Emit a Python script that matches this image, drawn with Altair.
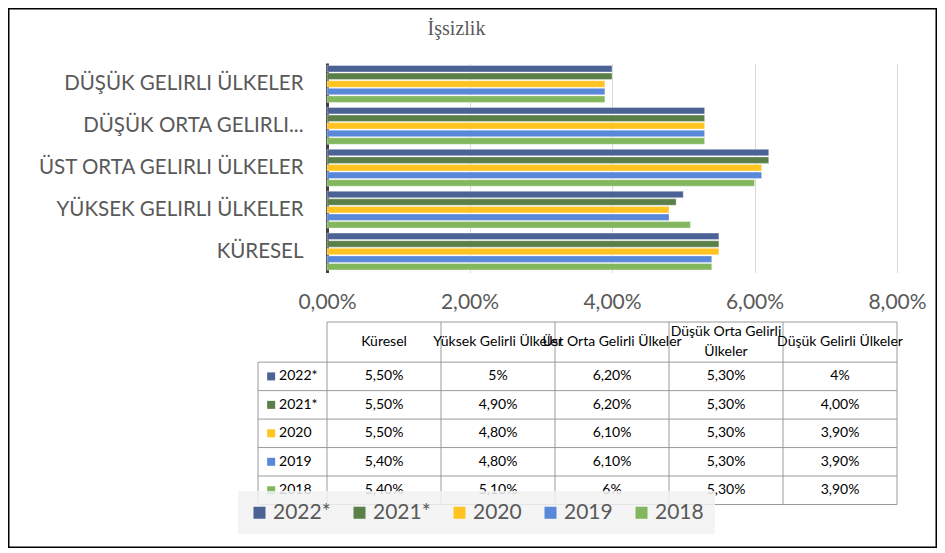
import altair as alt
import pandas as pd

# ---------------- data ----------------
chart_title = "İşsizlik"
categories = ["DÜŞÜK GELIRLI ÜLKELER", "DÜŞÜK ORTA GELIRLI...", "ÜST ORTA GELIRLI ÜLKELER",
              "YÜKSEK GELIRLI ÜLKELER", "KÜRESEL"]
table_columns = ["Küresel", "Yüksek Gelirli Ülkeler", "Üst Orta Gelirli Ülkeler",
                 "Düşük Orta Gelirli\nÜlkeler", "Düşük Gelirli Ülkeler"]
years = ["2022*", "2021*", "2020", "2019", "2018"]
year_colors = ["#4A6394", "#5B7F48", "#FFC322", "#5A88D8", "#82B75E"]
tick_values = [0, 2, 4, 6, 8]

# values (%) in table-column order: Küresel, Yüksek, Üst Orta, Düşük Orta, Düşük
v2022 = [5.5, 5.0, 6.2, 5.3, 4.0]
v2021 = [5.5, 4.9, 6.2, 5.3, 4.0]
v2020 = [5.5, 4.8, 6.1, 5.3, 3.9]
v2019 = [5.4, 4.8, 6.1, 5.3, 3.9]
v2018 = [5.4, 5.1, 6.0, 5.3, 3.9]

t2022 = ["5,50%", "5%", "6,20%", "5,30%", "4%"]
t2021 = ["5,50%", "4,90%", "6,20%", "5,30%", "4,00%"]
t2020 = ["5,50%", "4,80%", "6,10%", "5,30%", "3,90%"]
t2019 = ["5,40%", "4,80%", "6,10%", "5,30%", "3,90%"]
t2018 = ["5,40%", "5,10%", "6%", "5,30%", "3,90%"]

series = [v2022, v2021, v2020, v2019, v2018]
labels = [t2022, t2021, t2020, t2019, t2018]

# ---------------- layout (pixels inside the framed view) ----------------
W, H = 929, 540
PLOT_X = [319, 889]
PLOT_Y = [55, 264.5]
TABLE_Y = [314, 496.5]
HEADER_H = 1.41      # header row height in row units
ROWHDR_W = 0.605     # row-header column width in column units
SW_X = -0.49
TXT_X = -0.42
LINE_H = 20          # header line height (px)
ROW_PX = (TABLE_Y[1] - TABLE_Y[0]) / (HEADER_H + len(years))
FONT = "Lato"

ncat = len(categories)
ncol = len(table_columns)
nrow = len(years)

# ---------------- bar chart ----------------
bar_rows = []
for y, vals in zip(years, series):
    for j in range(ncol):
        bar_rows.append({"cat": categories[ncat - 1 - j], "year": y, "value": vals[j]})
bars_df = pd.DataFrame(bar_rows)

color_scale = alt.Scale(domain=years, range=year_colors)
legend = alt.Legend(title=None, orient="none", legendX=230, legendY=483,
                    direction="horizontal", columns=5, symbolType="square",
                    symbolSize=144, symbolStrokeWidth=0, labelFont=FONT,
                    labelFontSize=21, labelColor="#595959", labelOffset=3,
                    columnPadding=18, padding=11,
                    fillColor="rgba(242,242,242,0.85)")

bars = alt.Chart(bars_df).mark_bar(stroke="white", strokeOpacity=0.35, strokeWidth=1).encode(
    x=alt.X("value:Q",
            scale=alt.Scale(domain=[0, 8], range=PLOT_X, nice=False, zero=True),
            axis=alt.Axis(orient="top", offset=-306, values=tick_values,
                          labelExpr="replace(format(datum.value, '.2f'), '.', ',') + '%'",
                          grid=True, gridColor="#D9D9D9", gridWidth=1, domain=False,
                          ticks=False, tickSize=0, labelPadding=2, labelFont=FONT,
                          labelFlush=False, labelOverlap=False,
                          labelFontSize=21, labelColor="#595959", title=None)),
    y=alt.Y("cat:N", sort=categories,
            scale=alt.Scale(domain=categories, range=PLOT_Y, paddingInner=0.12, paddingOuter=0.06),
            axis=alt.Axis(orient="left", offset=-319, domainColor="#404040", domainWidth=3,
                          ticks=False, labelPadding=24, labelFont=FONT, labelFontSize=20.5,
                          labelColor="#595959", labelLimit=400, title=None, grid=False)),
    yOffset=alt.YOffset("year:N", sort=years, scale=alt.Scale(domain=years, paddingInner=0.15)),
    color=alt.Color("year:N", scale=color_scale, legend=legend, sort=years),
)

# ---------------- data table ----------------
tx = alt.Scale(domain=[0, ncol], range=PLOT_X, nice=False, zero=False)
ty = alt.Scale(domain=[-HEADER_H, nrow], range=TABLE_Y, nice=False, zero=False)

rule_rows = [{"x": 0, "x2": ncol, "y": -HEADER_H, "y2": -HEADER_H}]
for r in range(nrow + 1):
    rule_rows.append({"x": -ROWHDR_W, "x2": ncol, "y": r, "y2": r})
rule_rows.append({"x": -ROWHDR_W, "x2": -ROWHDR_W, "y": 0, "y2": nrow})
for c in range(ncol + 1):
    rule_rows.append({"x": c, "x2": c, "y": -HEADER_H, "y2": nrow})
rules_df = pd.DataFrame(rule_rows)

hdr_y = []
for lab in table_columns:
    nlines = lab.count("\n") + 1
    hdr_y.append(-HEADER_H / 2 - (nlines - 1) * LINE_H / 2 / ROW_PX)
hdr_df = pd.DataFrame({"label": table_columns,
                       "x": [j + 0.5 for j in range(ncol)],
                       "y": hdr_y})

val_rows = []
for i, labs in enumerate(labels):
    for j in range(ncol):
        val_rows.append({"label": labs[j], "x": j + 0.5, "y": i + 0.5})
val_df = pd.DataFrame(val_rows)

yr_df = pd.DataFrame({"year": years,
                      "y": [i + 0.5 for i in range(nrow)],
                      "xs": [SW_X] * nrow,
                      "xt": [TXT_X] * nrow})

rules = alt.Chart(rules_df).mark_rule(color="#9A9A9A", strokeWidth=1).encode(
    x=alt.X("x:Q", scale=tx, axis=None), x2="x2:Q",
    y=alt.Y("y:Q", scale=ty, axis=None), y2="y2:Q")

hdr = alt.Chart(hdr_df).mark_text(font=FONT, fontSize=14, color="#000000", lineHeight=LINE_H,
                                  lineBreak="\n", baseline="middle", align="center").encode(
    x=alt.X("x:Q", scale=tx, axis=None), y=alt.Y("y:Q", scale=ty, axis=None), text="label:N")

vals = alt.Chart(val_df).mark_text(font=FONT, fontSize=14, color="#000000",
                                   baseline="middle", align="center").encode(
    x=alt.X("x:Q", scale=tx, axis=None), y=alt.Y("y:Q", scale=ty, axis=None), text="label:N")

yr_text = alt.Chart(yr_df).mark_text(font=FONT, fontSize=14, color="#000000",
                                     baseline="middle", align="left").encode(
    x=alt.X("xt:Q", scale=tx, axis=None), y=alt.Y("y:Q", scale=ty, axis=None), text="year:N")

swatch = alt.Chart(yr_df).mark_point(shape="square", filled=True, size=64, opacity=1).encode(
    x=alt.X("xs:Q", scale=tx, axis=None), y=alt.Y("y:Q", scale=ty, axis=None),
    color=alt.Color("year:N", scale=color_scale, legend=legend, sort=years))

table = alt.layer(rules, hdr, vals, yr_text, swatch)

chart = alt.layer(bars, table).resolve_scale(x="independent", y="independent").properties(
    width=W, height=H, padding=0, background="white",
    title=alt.TitleParams(text=chart_title, font="Liberation Serif", fontSize=20,
                          fontWeight="normal", color="#595959", anchor="middle",
                          baseline="middle", offset=-41, dx=-16),
).configure_view(stroke="#000000", strokeWidth=3, fill="white")

chart.save("out.html", embed_options={"renderer": "svg", "actions": False})
